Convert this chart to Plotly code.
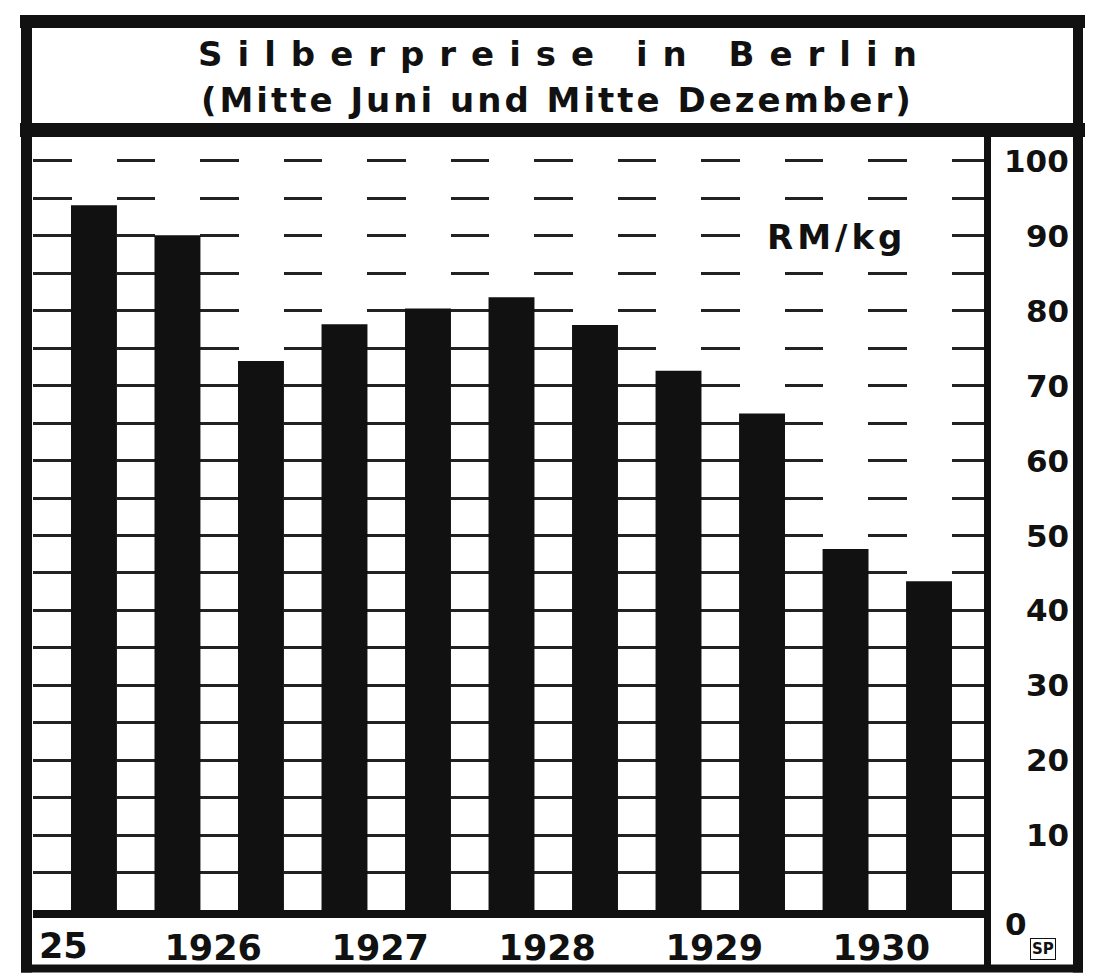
import plotly.graph_objects as go

# ---------------- data ----------------
periods = ["Dez. 1925", "Juni 1926", "Dez. 1926", "Juni 1927", "Dez. 1927",
           "Juni 1928", "Dez. 1928", "Juni 1929", "Dez. 1929", "Juni 1930", "Dez. 1930"]
prices = [94.1, 90.1, 73.3, 78.2, 80.3, 81.8, 78.1, 72.0, 66.3, 48.2, 43.9]
year_labels = ["1926", "1927", "1928", "1929", "1930"]
partial_year_label = "25"
y_label_vals = [10, 20, 30, 40, 50, 60, 70, 80, 90, 100]
grid_vals = list(range(5, 101, 5))
title_line1 = "Silberpreise in Berlin"
title_line2 = "(Mitte Juni und Mitte Dezember)"
unit_label = "RM/kg"

# ---------------- layout geometry (page pixels) ----------------
PAGE_W, PAGE_H = 1095, 980
OFF = 8                                  # browser body margin
W, H = PAGE_W - OFF, PAGE_H - OFF
L, R, T, B = 33, 990, 137, 925           # plot area in page pixels
INK = "#111111"
FONT = "DejaVu Sans"


def px(p):
    return (p - L) / (R - L)


def py(p):
    return (B - p) / (B - T)


xs = list(range(len(periods)))
x_min, x_max = -0.73, len(periods) - 1 + 0.73
y_min, y_max = -1.06, 103.2

# year label positions: mean index of the bars belonging to each year
year_pos = []
for yl in year_labels:
    idx = [i for i, p in enumerate(periods) if p.endswith(yl)]
    year_pos.append(sum(idx) / len(idx))

fig = go.Figure()
fig.add_trace(go.Bar(
    x=xs, y=prices, width=0.55,
    marker=dict(color=INK, line=dict(width=0)),
    hovertext=periods, hoverinfo="text+y",
))

unit_px = (R - L) / (x_max - x_min)
bar_px = 0.55 * unit_px
gap_px = unit_px - bar_px

fig.update_layout(
    width=W, height=H,
    margin=dict(l=L - OFF, r=W - (R - OFF), t=T - OFF, b=H - (B - OFF)),
    paper_bgcolor="white", plot_bgcolor="white",
    showlegend=False,
    bargap=0.45,
    font=dict(family=FONT, color=INK, weight="bold"),
    xaxis=dict(
        range=[x_min, x_max], showgrid=False, zeroline=False, showline=False,
        tickmode="array", tickvals=year_pos, ticktext=year_labels,
        ticks="", ticklabelstandoff=6, ticklabelshift=-6,
        tickfont=dict(family=FONT, size=35, color=INK, weight="bold"),
    ),
    yaxis=dict(
        range=[y_min, y_max], side="right", zeroline=False, showline=False,
        tickmode="array", tickvals=grid_vals, showticklabels=False, ticks="",
        showgrid=True, gridcolor="#222222", gridwidth=2.5,
        griddash=f"{gap_px + 1:.1f}px,{bar_px - 1:.1f}px",
    ),
)

shapes = []


def rect(x0, y0, x1, y1):
    shapes.append(dict(type="rect", xref="paper", yref="paper",
                       x0=px(x0), x1=px(x1), y0=py(y1), y1=py(y0),
                       fillcolor=INK, line=dict(width=0), layer="above"))


rect(20, 14, 1085, 27)      # top border
rect(20, 123, 1085, 137)    # title divider
rect(21, 14, 32, 980)       # left border
rect(1073, 14, 1083, 980)   # right border
rect(21, 972, 1083, 980)    # bottom border
rect(984, 137, 991, 975)    # value axis line
rect(L, 917, 984, 925)      # base line
fig.update_layout(shapes=shapes)

ann = []
ann.append(dict(xref="paper", yref="paper", x=px(565), y=py(53),
                text=f'<span style="letter-spacing:15px">{title_line1}</span>',
                showarrow=False, xanchor="center", yanchor="middle",
                font=dict(family=FONT, size=34, color=INK, weight="bold")))
ann.append(dict(xref="paper", yref="paper", x=px(557), y=py(100),
                text=f'<span style="letter-spacing:3px">{title_line2}</span>',
                showarrow=False, xanchor="center", yanchor="middle",
                font=dict(family=FONT, size=34, color=INK, weight="bold")))
ann.append(dict(xref="paper", yref="paper", x=px(836), y=py(238),
                text=f'<span style="letter-spacing:4px">{unit_label}</span>',
                showarrow=False, xanchor="center", yanchor="middle",
                bgcolor="white", borderpad=2,
                font=dict(family=FONT, size=34, color=INK, weight="bold")))
for v in y_label_vals:
    ann.append(dict(xref="paper", yref="y", x=px(1071), y=v, text=str(v),
                    showarrow=False, xanchor="right", yanchor="middle",
                    font=dict(family=FONT, size=31, color=INK, weight="bold")))
ann.append(dict(xref="paper", yref="y", x=px(1003), y=0, yshift=-14, text="0",
                showarrow=False, xanchor="left", yanchor="middle",
                font=dict(family=FONT, size=31, color=INK, weight="bold")))
ann.append(dict(xref="paper", yref="paper", x=px(37), y=py(953),
                text=partial_year_label, showarrow=False,
                xanchor="left", yanchor="middle",
                font=dict(family=FONT, size=35, color=INK, weight="bold")))
ann.append(dict(xref="paper", yref="paper", x=px(1043), y=py(956), text="SP",
                showarrow=False, xanchor="center", yanchor="middle",
                bordercolor=INK, borderwidth=1, borderpad=1,
                font=dict(family=FONT, size=15, color=INK, weight="bold")))
fig.update_layout(annotations=ann)

fig.write_html("out.html")
